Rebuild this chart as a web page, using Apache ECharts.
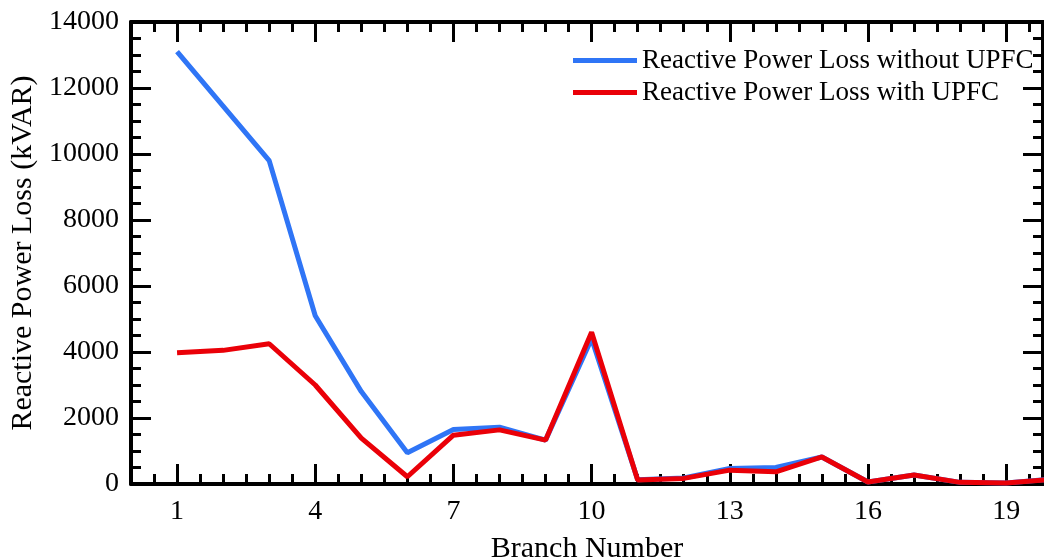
<!DOCTYPE html>
<html>
<head>
<meta charset="utf-8">
<script src="https://cdn.jsdelivr.net/npm/echarts@6/dist/echarts.min.js"></script>
<style>html,body{margin:0;padding:0;background:#fff;}#c{width:1044px;height:558px;}</style>
</head>
<body>
<div id="c"></div>
<script>
const branches = [1,2,3,4,5,6,7,8,9,10,11,12,13,14,15,16,17,18,19,20];
const lossWithout = [13100,11450,9800,5100,2800,950,1650,1720,1330,4400,130,180,470,500,820,60,270,50,30,150];
const lossWith    = [3980,4050,4250,3000,1390,220,1480,1640,1330,4600,120,170,420,370,820,60,270,50,30,140];
const xMajorTicks = [1,4,7,10,13,16,19];
const seriesNames = ['Reactive Power Loss without UPFC','Reactive Power Loss with UPFC'];

const xMinorTicks = [];
for (let v = 0.5; v < 19.8; v += 0.5) xMinorTicks.push(v);

const FONT = '"Liberation Serif", "Times New Roman", serif';
const axisLineStyle = { color: '#000', width: 4 };
const tickStyle = { color: '#000', width: 3 };

const chart = echarts.init(document.getElementById('c'));
const xCommon = { type: 'value', min: 0, max: 19.8, gridIndex: 0, splitLine: { show: false } };
const yCommon = { type: 'value', min: 0, max: 14000, interval: 2000, splitLine: { show: false } };

chart.setOption({
  backgroundColor: '#fff',
  animation: false,
  grid: { left: 131, right: 1, top: 22, bottom: 74, containLabel: false, outerBoundsMode: 'none' },
  legend: {
    orient: 'vertical', left: 568, top: 42, itemWidth: 64, itemHeight: 5, itemGap: 5,
    icon: 'rect',
    textStyle: { fontFamily: FONT, fontSize: 27, color: '#000' },
    data: seriesNames
  },
  xAxis: [
    Object.assign({}, xCommon, {
      position: 'bottom',
      axisLine: { show: true, onZero: false, lineStyle: axisLineStyle },
      axisTick: { show: true, inside: true, length: 20, lineStyle: tickStyle, customValues: xMajorTicks },
      axisLabel: { show: true, customValues: xMajorTicks, margin: 14, fontFamily: FONT, fontSize: 28, color: '#000' },
      name: 'Branch Number', nameLocation: 'middle', nameGap: 50,
      nameTextStyle: { fontFamily: FONT, fontSize: 30, color: '#000' }
    }),
    Object.assign({}, xCommon, {
      position: 'bottom',
      axisLine: { show: false, onZero: false },
      axisTick: { show: true, inside: true, length: 10, lineStyle: tickStyle, customValues: xMinorTicks },
      axisLabel: { show: false }
    }),
    Object.assign({}, xCommon, {
      position: 'top',
      axisLine: { show: true, onZero: false, lineStyle: axisLineStyle },
      axisTick: { show: true, inside: true, length: 20, lineStyle: tickStyle, customValues: xMajorTicks },
      axisLabel: { show: false }
    }),
    Object.assign({}, xCommon, {
      position: 'top',
      axisLine: { show: false, onZero: false },
      axisTick: { show: true, inside: true, length: 10, lineStyle: tickStyle, customValues: xMinorTicks },
      axisLabel: { show: false }
    })
  ],
  yAxis: [
    Object.assign({}, yCommon, {
      position: 'left',
      axisLine: { show: true, onZero: false, lineStyle: axisLineStyle },
      axisTick: { show: true, inside: true, length: 20, lineStyle: tickStyle },
      minorTick: { show: true, splitNumber: 4, length: 10, lineStyle: tickStyle },
      axisLabel: { show: true, margin: 12, fontFamily: FONT, fontSize: 28, color: '#000', formatter: v => String(v) },
      name: 'Reactive Power Loss (kVAR)', nameLocation: 'middle', nameGap: 92,
      nameTextStyle: { fontFamily: FONT, fontSize: 30, color: '#000' }
    }),
    Object.assign({}, yCommon, {
      position: 'right',
      axisLine: { show: true, onZero: false, lineStyle: axisLineStyle },
      axisTick: { show: true, inside: true, length: 20, lineStyle: tickStyle },
      minorTick: { show: true, splitNumber: 4, length: 10, lineStyle: tickStyle },
      axisLabel: { show: false }
    })
  ],
  series: [
    {
      name: seriesNames[0], type: 'line', xAxisIndex: 0, yAxisIndex: 0,
      data: branches.map((b, i) => [b, lossWithout[i]]),
      showSymbol: false, symbol: 'none', clip: true,
      lineStyle: { color: '#2f75f6', width: 5 }, itemStyle: { color: '#2f75f6' }
    },
    {
      name: seriesNames[1], type: 'line', xAxisIndex: 0, yAxisIndex: 0,
      data: branches.map((b, i) => [b, lossWith[i]]),
      showSymbol: false, symbol: 'none', clip: true,
      lineStyle: { color: '#ea0008', width: 5 }, itemStyle: { color: '#ea0008' }
    }
  ]
});
</script>
</body>
</html>
